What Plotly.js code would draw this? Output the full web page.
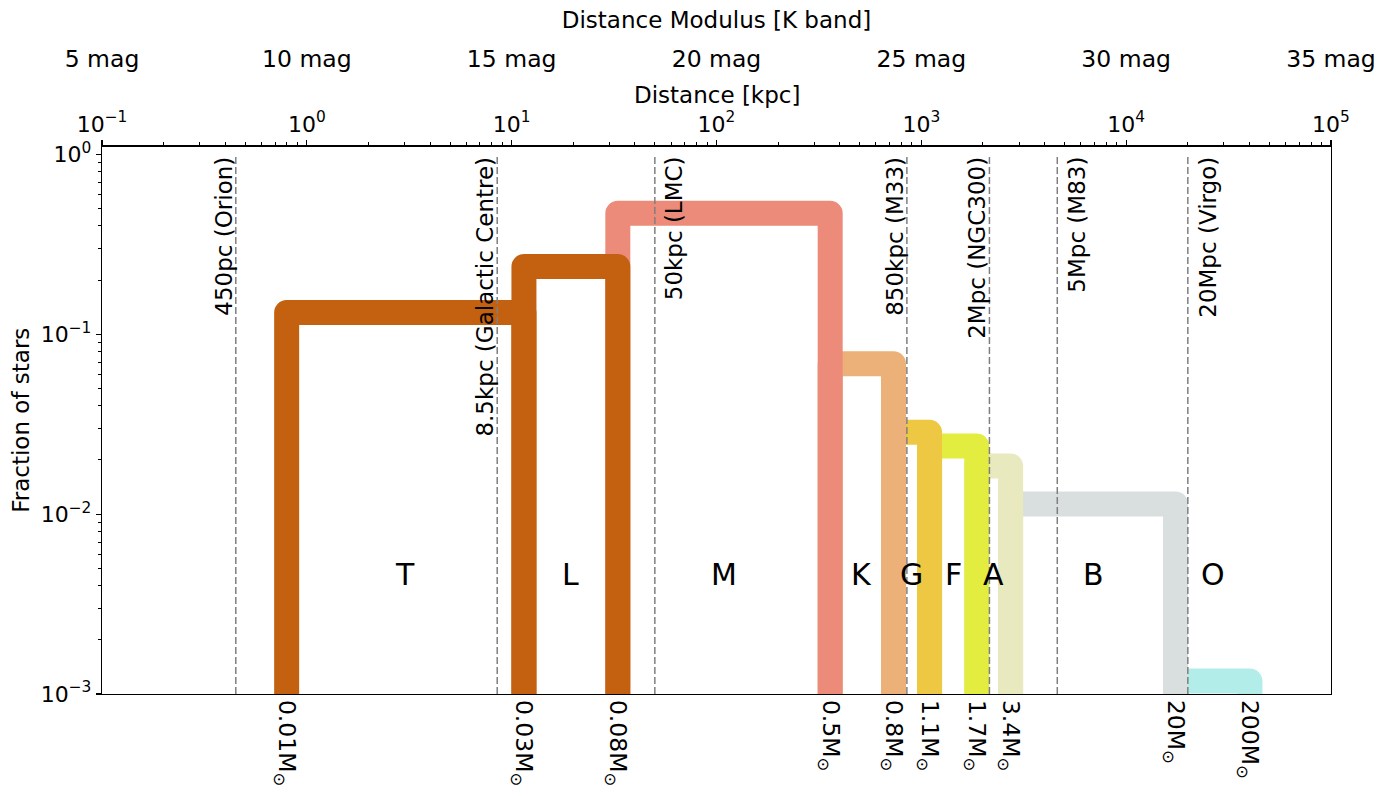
<!DOCTYPE html>
<html><head><meta charset="utf-8">
<script src="https://cdn.plot.ly/plotly-3.0.1.min.js"></script>
<style>
html,body{margin:0;padding:0;background:#fff;}
#chart{width:1390px;height:796px;}
.scatterlayer .trace path.js-line{stroke-linejoin:round !important;stroke-linecap:butt !important;}
</style>
</head><body><div id="chart"></div>
<script>
// ---- data ----
const spectralTypes = ['T','L','M','K','G','F','A','B','O'];
const typeColors    = ['#C46110','#C46110','#EC8B79','#ECB079','#EEC843','#E3ED3F','#E8E9BE','#D9DFDE','#B3EDEA'];
const typeFractions = [0.132, 0.238, 0.471, 0.0686, 0.0285, 0.0239, 0.0185, 0.0114, 0.00118];
// mass boundaries between the types and where they sit on the distance axis [kpc]
const massLabels    = ['0.01','0.03','0.08','0.5','0.8','1.1','1.7','3.4','20','200'];
const massEdgesKpc  = [0.797, 11.48, 32.98, 358.9, 731.5, 1097, 1865, 2728, 17410, 40210];
// reference distances [kpc]
const refDistKpc    = [0.45, 8.5, 50, 850, 2150, 4610, 20000];
const refLabels     = ['450pc (Orion)','8.5kpc (Galactic Centre)','50kpc (LMC)','850kpc (M33)','2Mpc (NGC300)','5Mpc (M83)','20Mpc (Virgo)'];
// axis ticks
const distTicks     = [0.1, 1, 10, 100, 1000, 10000, 100000];
const distTickText  = ['10<sup>\u22121</sup>','10<sup>0</sup>','10<sup>1</sup>','10<sup>2</sup>','10<sup>3</sup>','10<sup>4</sup>','10<sup>5</sup>'];
const magTicks      = [5, 10, 15, 20, 25, 30, 35];
const fracTicks     = [0.001, 0.01, 0.1, 1];
const fracTickText  = ['10<sup>\u22123</sup>','10<sup>\u22122</sup>','10<sup>\u22121</sup>','10<sup>0</sup>'];
const labelFracY    = 0.0046;

// ---- build ----
const FONT = 'DejaVu Sans';
const yMin = 1e-3, yMaxLog = 0.044;
// which side of its dashed line each reference label sits on
const labelOnRight = {'50kpc (LMC)':true, '5Mpc (M83)':true, '20Mpc (Virgo)':true};
const traces = [];
// hottest first so cooler types are drawn on top
for (let i = spectralTypes.length - 1; i >= 0; i--) {
  const x0 = massEdgesKpc[i], x1 = massEdgesKpc[i+1], f = typeFractions[i];
  traces.push({
    type:'scatter', mode:'lines', xaxis:'x', yaxis:'y',
    x:[x0, x0, x1, x1], y:[yMin, f, f, yMin],
    line:{color:typeColors[i], width:25, simplify:false},
    hoverinfo:'skip', showlegend:false
  });
}
refDistKpc.forEach(d => {
  traces.push({
    type:'scatter', mode:'lines', xaxis:'x2', yaxis:'y',
    x:[d, d], y:[yMin, 1],
    line:{color:'#7f7f7f', width:1.5, dash:'7px,3px'},
    hoverinfo:'skip', showlegend:false
  });
});
const magKpc = magTicks.map(m => Math.pow(10, m/5 - 2));
traces.push({type:'scatter', mode:'markers', xaxis:'x3', yaxis:'y',
  x: magKpc, y: magKpc.map(() => null), hoverinfo:'skip', showlegend:false});

const annotations = [];
refDistKpc.forEach((d, i) => {
  const right = !!labelOnRight[refLabels[i]];
  annotations.push({xref:'x2', yref:'y', x:Math.log10(d), y:0, text:refLabels[i],
    textangle:-90, xanchor: right ? 'left' : 'right', yanchor:'top', showarrow:false,
    xshift: right ? 5 : 3,
    font:{family:FONT, size:23, color:'#000'}});
});
spectralTypes.forEach((t, i) => {
  const xm = 0.5*(Math.log10(massEdgesKpc[i]) + Math.log10(massEdgesKpc[i+1]));
  annotations.push({xref:'x', yref:'y', x:xm, y:Math.log10(labelFracY), text:t,
    xanchor:'center', yanchor:'middle', showarrow:false,
    font:{family:FONT, size:30, color:'#000'}});
});
// title of the distance axis
annotations.push({xref:'paper', yref:'paper', x:0.5, y:(694-95)/684, text:'Distance [kpc]',
  xanchor:'center', yanchor:'middle', showarrow:false, borderpad:0,
  font:{family:FONT, size:23, color:'#000'}});

const D = (694-146.5)/(796-10-102);
const tickFont = {family:FONT, size:22, color:'#000'};
const titleFont = {family:FONT, size:23, color:'#000'};
const layout = {
  width:1390, height:796,
  margin:{l:102, r:59, t:10, b:102},
  paper_bgcolor:'#fff', plot_bgcolor:'#fff',
  font:{family:FONT, size:22, color:'#000'},
  showlegend:false,
  xaxis:{type:'log', range:[-1,5], tickmode:'array', tickvals:massEdgesKpc,
    ticktext: massLabels.map(m => m + 'M<sub>\u2299</sub>'), tickangle:90,
    ticks:'', showgrid:false, zeroline:false, showline:true, linecolor:'#000', linewidth:1.2,
    tickfont:{family:FONT, size:23.5, color:'#000'}},
  xaxis2:{type:'log', range:[-1,5], overlaying:'x', side:'top', anchor:'y',
    tickmode:'array', tickvals:distTicks, ticktext:distTickText,
    ticks:'outside', ticklen:5, tickwidth:1.1, tickcolor:'#000',
    minor:{ticks:'outside', ticklen:3, tickwidth:1, tickcolor:'#000', dtick:'D1', showgrid:false},
    showgrid:false, zeroline:false, showline:true, linecolor:'#000', linewidth:1.2,
    tickfont:tickFont},
  xaxis3:{type:'log', range:[-1,5], overlaying:'x', side:'top', anchor:'free', position:0.9094,
    tickmode:'array', tickvals:magKpc, ticktext:magTicks.map(m => m + ' mag'),
    ticks:'', showgrid:false, zeroline:false, showline:false,
    tickfont:{family:FONT, size:23.5, color:'#000'},
    title:{text:'Distance Modulus [K band]', font:titleFont, standoff:9}},
  yaxis:{type:'log', range:[-3, yMaxLog], domain:[0, D], tickmode:'array',
    tickvals:fracTicks, ticktext:fracTickText,
    ticks:'outside', ticklen:5, tickwidth:1.1, tickcolor:'#000',
    minor:{ticks:'outside', ticklen:3, tickwidth:1, tickcolor:'#000', dtick:'D1', showgrid:false},
    showgrid:false, zeroline:false, showline:true, mirror:true, linecolor:'#000', linewidth:1.2,
    tickfont:tickFont, title:{text:'Fraction of stars', font:titleFont, standoff:4}},
  annotations: annotations
};
Plotly.newPlot('chart', traces, layout, {displayModeBar:false, staticPlot:true});
</script>
</body></html>
